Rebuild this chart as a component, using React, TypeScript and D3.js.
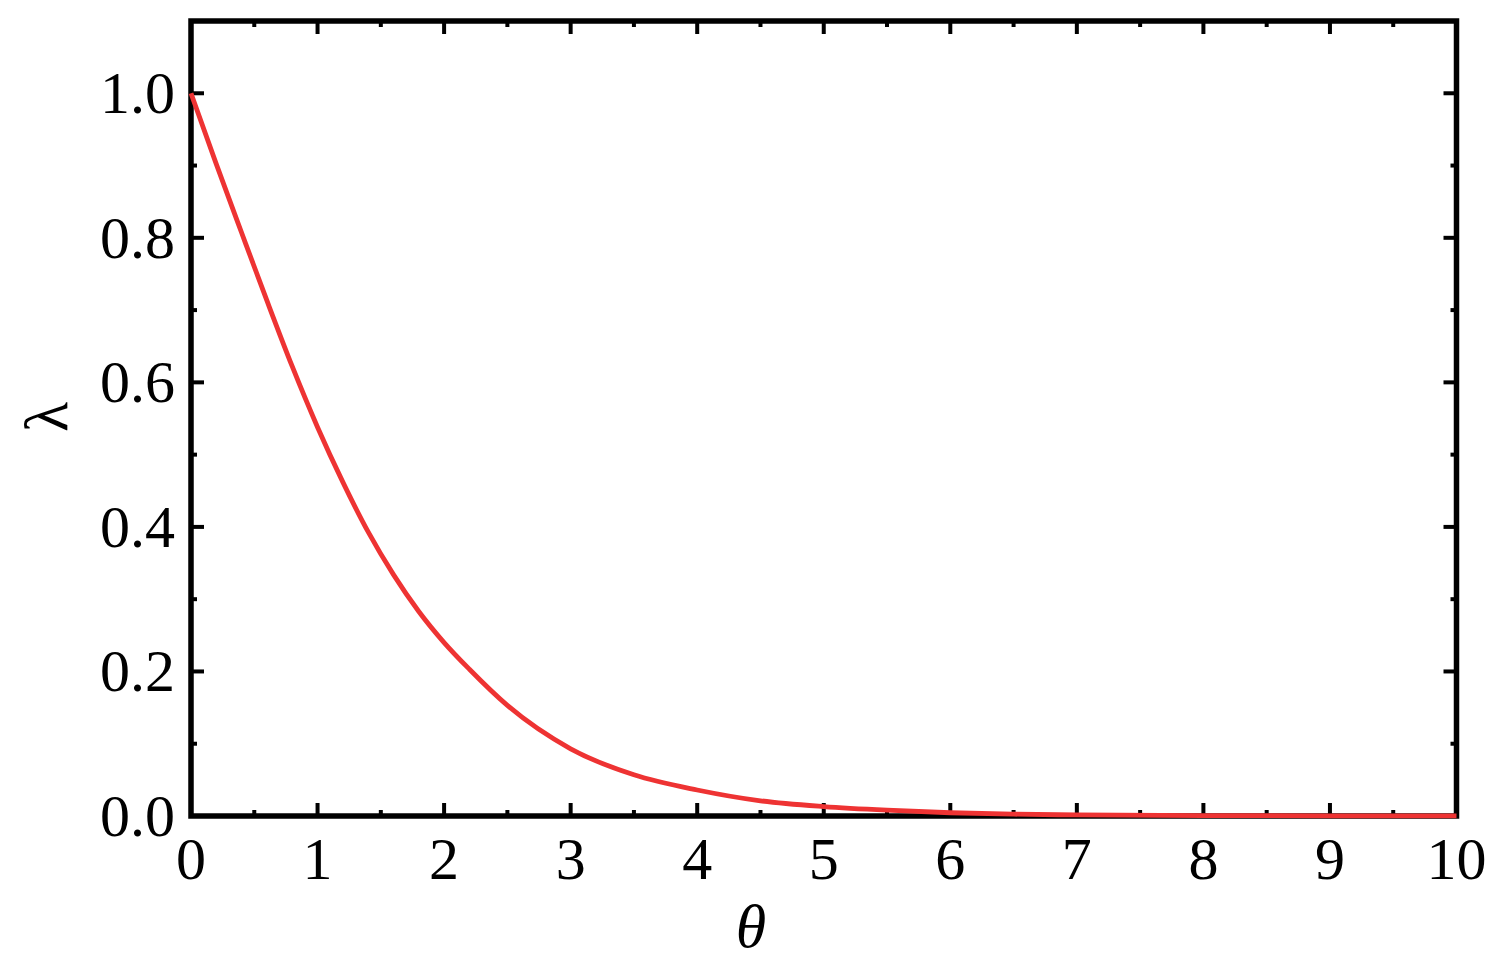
import React from "react";
import * as d3 from "d3";

const thetaValues = [0, 0.2, 0.4, 0.6, 0.8, 1.0, 1.2, 1.4, 1.6, 1.8, 2.0, 2.2, 2.5, 3.0, 3.5, 4.0, 4.5, 5.0, 5.5, 6.0, 6.5, 7.0, 8.0, 9.0, 10.0];
const lambdaValues = [1.0, 0.902, 0.807, 0.713, 0.622, 0.538, 0.462, 0.393, 0.334, 0.283, 0.24, 0.203, 0.153, 0.093, 0.057, 0.036, 0.021, 0.013, 0.008, 0.0045, 0.0025, 0.0015, 0.0006, 0.0003, 0.0001];

const xMajorTicks = [0, 1, 2, 3, 4, 5, 6, 7, 8, 9, 10];
const xMinorTicks = [0.5, 1.5, 2.5, 3.5, 4.5, 5.5, 6.5, 7.5, 8.5, 9.5];
const yMajorTicks = [0, 0.2, 0.4, 0.6, 0.8, 1.0];
const yMinorTicks = [0.1, 0.3, 0.5, 0.7, 0.9];
const yTickLabels = ["0.0", "0.2", "0.4", "0.6", "0.8", "1.0"];

const W = 1506;
const H = 968;
const left = 191;
const right = 1456.5;
const top = 21;
const bottom = 816;
const FONT = "'Liberation Serif', 'Times New Roman', serif";

export default function App() {
  const x = d3.scaleLinear().domain([0, 10]).range([left, right]);
  const y = d3.scaleLinear().domain([0, 1.1]).range([bottom, top]);
  const pts = thetaValues.map((t, i) => [t, lambdaValues[i]] as [number, number]);
  const line = d3
    .line<[number, number]>()
    .x((d) => x(d[0]))
    .y((d) => y(d[1]))
    .curve(d3.curveMonotoneX);

  const majorLen = 13;
  const minorLen = 6;
  const tickW = 4;

  return (
    <svg
      width={W}
      height={H}
      style={{ position: "absolute", left: 0, top: 0, background: "#fff" }}
    >
      <rect x={0} y={0} width={W} height={H} fill="#fff" />
      {xMajorTicks.map((t) => (
        <g key={"xM" + t}>
          <line x1={x(t)} x2={x(t)} y1={bottom} y2={bottom - majorLen} stroke="#000" strokeWidth={tickW} />
          <line x1={x(t)} x2={x(t)} y1={top} y2={top + majorLen} stroke="#000" strokeWidth={tickW} />
        </g>
      ))}
      {xMinorTicks.map((t) => (
        <g key={"xm" + t}>
          <line x1={x(t)} x2={x(t)} y1={bottom} y2={bottom - minorLen} stroke="#000" strokeWidth={tickW} />
          <line x1={x(t)} x2={x(t)} y1={top} y2={top + minorLen} stroke="#000" strokeWidth={tickW} />
        </g>
      ))}
      {yMajorTicks.map((t) => (
        <g key={"yM" + t}>
          <line x1={left} x2={left + majorLen} y1={y(t)} y2={y(t)} stroke="#000" strokeWidth={tickW} />
          <line x1={right} x2={right - majorLen} y1={y(t)} y2={y(t)} stroke="#000" strokeWidth={tickW} />
        </g>
      ))}
      {yMinorTicks.map((t) => (
        <g key={"ym" + t}>
          <line x1={left} x2={left + minorLen} y1={y(t)} y2={y(t)} stroke="#000" strokeWidth={tickW} />
          <line x1={right} x2={right - minorLen} y1={y(t)} y2={y(t)} stroke="#000" strokeWidth={tickW} />
        </g>
      ))}
      <rect
        x={left}
        y={top}
        width={right - left}
        height={bottom - top}
        fill="none"
        stroke="#000"
        strokeWidth={5.5}
      />
      <path d={line(pts) || ""} fill="none" stroke="#ee3333" strokeWidth={4.8} strokeLinejoin="round" />
      {xMajorTicks.map((t) => (
        <text
          key={"xl" + t}
          x={x(t)}
          y={879}
          textAnchor="middle"
          fontFamily={FONT}
          fontSize={60}
          fill="#000"
        >
          {String(t)}
        </text>
      ))}
      {yMajorTicks.map((t, i) => (
        <text
          key={"yl" + t}
          x={175}
          y={y(t) + 20}
          textAnchor="end"
          fontFamily={FONT}
          fontSize={60}
          fill="#000"
        >
          {yTickLabels[i]}
        </text>
      ))}
      <text
        x={751}
        y={947}
        textAnchor="middle"
        fontFamily={FONT}
        fontSize={62}
        fontStyle="italic"
        fill="#000"
      >
        θ
      </text>
      <text
        transform="translate(67,417) rotate(-90)"
        textAnchor="middle"
        fontFamily={FONT}
        fontSize={62}
        fill="#000"
      >
        λ
      </text>
    </svg>
  );
}
